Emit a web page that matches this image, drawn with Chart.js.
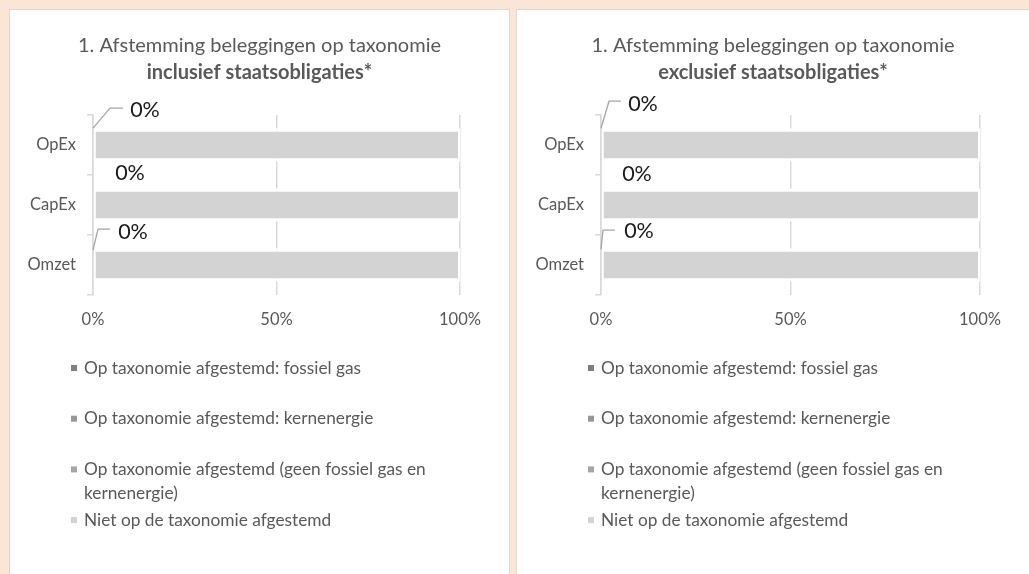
<!DOCTYPE html>
<html>
<head>
<meta charset="utf-8">
<script src="https://cdn.jsdelivr.net/npm/chart.js@4.4.1/dist/chart.umd.min.js"></script>
<style>
  body { margin: 0; background: #fbe5d6; width: 1029px; height: 574px; overflow: hidden; position: relative; }
  .paneel { position: absolute; top: 9px; background: #fff; border: 1px solid #d9d9d9; }
  #links { left: 9px; width: 499px; height: 580px; }
  #rechts { left: 516px; width: 520px; height: 580px; }
  canvas { display: block; }
</style>
</head>
<body>
<div class="paneel" id="links"><canvas id="grafiekIncl" width="499" height="564"></canvas></div>
<div class="paneel" id="rechts"><canvas id="grafiekExcl" width="512" height="564"></canvas></div>
<script>
// Categorieën (van boven naar beneden zoals in de grafiek)
const categorieen = ['OpEx', 'CapEx', 'Omzet'];

// Namen van de reeksen
const reeksNamen = [
    'Op taxonomie afgestemd: fossiel gas',
    'Op taxonomie afgestemd: kernenergie',
    'Op taxonomie afgestemd (geen fossiel gas en kernenergie)',
    'Niet op de taxonomie afgestemd'
];

// Inclusief staatsobligaties (%)
const inclFossielGas = [0, 0, 0];
const inclKernenergie = [0, 0, 0];
const inclAfgestemd = [0, 0, 0];
const inclNietAfgestemd = [100, 100, 100];

// Exclusief staatsobligaties (%)
const exclFossielGas = [0, 0, 0];
const exclKernenergie = [0, 0, 0];
const exclAfgestemd = [0, 0, 0];
const exclNietAfgestemd = [100, 100, 100];

// Tick-waarden x-as
const xTicks = [0, 50, 100];

const kleuren = ['#7f7f7f', '#979797', '#a6a6a6', '#d3d3d3'];
const tekstKleur = '#595959';
const lettertype = 'Lato, "Open Sans", sans-serif';

// Plugin: titel, datalabels met verbindingslijnen en legenda
const labelsEnLegenda = {
    id: 'labelsEnLegenda',
    afterDatasetsDraw(chart, args, opts) {
        const ctx = chart.ctx;
        const ds = chart.data.datasets[opts.labelReeks];
        const meta = chart.getDatasetMeta(opts.labelReeks);
        const x0 = chart.scales.x.getPixelForValue(0);
        ctx.save();
        meta.data.forEach((bar, i) => {
            const pos = opts.posities[i];
            const ankerY = bar.y - bar.height / 2;
            if (pos.lijn) {
                ctx.strokeStyle = '#a6a6a6';
                ctx.lineWidth = 1.3;
                ctx.beginPath();
                pos.lijn.forEach((p, k) => {
                    if (k === 0) ctx.moveTo(x0 + p[0], ankerY + p[1]);
                    else ctx.lineTo(x0 + p[0], ankerY + p[1]);
                });
                ctx.stroke();
            }
            ctx.fillStyle = '#1a1a1a';
            ctx.font = '21.5px ' + lettertype;
            ctx.textAlign = 'center';
            ctx.textBaseline = 'middle';
            ctx.fillText(ds.data[i] + '%', x0 + pos.dx, ankerY + pos.dy);
        });
        ctx.restore();
    },
    afterDraw(chart, args, opts) {
        const ctx = chart.ctx;
        ctx.save();
        // titel, gecentreerd over het hele paneel
        ctx.fillStyle = tekstKleur;
        ctx.textAlign = 'center';
        ctx.textBaseline = 'middle';
        ctx.font = '20px ' + lettertype;
        ctx.fillText(opts.titel, chart.width / 2, 36);
        ctx.font = 'bold 20px ' + lettertype;
        ctx.fillText(opts.ondertitel, chart.width / 2, 62.5);

        // legenda
        ctx.font = '17.3px ' + lettertype;
        ctx.textAlign = 'left';
        chart.data.datasets.forEach((ds, i) => {
            const y = opts.legendaTop + i * opts.legendaStap;
            ctx.fillStyle = ds.backgroundColor;
            ctx.fillRect(opts.legendaX - 13, y - 3, 6, 6);
            // tekst afbreken als hij te breed is
            const woorden = ds.label.split(' ');
            const regels = [];
            let regel = '';
            woorden.forEach(w => {
                const test = regel ? regel + ' ' + w : w;
                if (ctx.measureText(test).width > opts.maxBreedte && regel) {
                    regels.push(regel);
                    regel = w;
                } else {
                    regel = test;
                }
            });
            regels.push(regel);
            ctx.fillStyle = tekstKleur;
            regels.forEach((r, k) => ctx.fillText(r, opts.legendaX, y + k * 24));
        });
        ctx.restore();
    }
};

function maakGrafiek(id, ondertitel, reeksen, instellingen) {
    const ctx = document.getElementById(id).getContext('2d');
    instellingen.labels.titel = '1. Afstemming beleggingen op taxonomie';
    instellingen.labels.ondertitel = ondertitel;
    return new Chart(ctx, {
        type: 'bar',
        data: {
            labels: categorieen,
            datasets: reeksen.map((data, i) => ({
                label: reeksNamen[i],
                data: data,
                backgroundColor: kleuren[i],
                borderColor: '#ffffff',
                borderWidth: { top: 3.5, bottom: 3.5, left: 2, right: 2 },
                borderSkipped: false,
                barPercentage: 0.56,
                categoryPercentage: 1
            }))
        },
        options: {
            indexAxis: 'y',
            responsive: false,
            animation: false,
            events: [],
            layout: {
                padding: { left: 0, right: instellingen.rechts, top: 105, bottom: 239 }
            },
            plugins: {
                legend: { display: false },
                tooltip: { enabled: false },
                labelsEnLegenda: instellingen.labels
            },
            scales: {
                x: {
                    stacked: true,
                    min: 0,
                    max: 100,
                    afterBuildTicks: (as) => { as.ticks = xTicks.map(v => ({ value: v })); },
                    afterFit: (as) => { as.height = 40; },
                    grid: { color: '#d9d9d9', lineWidth: 1.5, drawTicks: false },
                    border: { display: false },
                    ticks: {
                        color: tekstKleur,
                        padding: 15,
                        font: { family: lettertype, size: 16.5 },
                        callback: (v) => v + '%'
                    }
                },
                y: {
                    stacked: true,
                    z: 1,
                    afterFit: (as) => { as.width = instellingen.links; },
                    grid: { drawOnChartArea: false, color: '#d9d9d9', lineWidth: 1.5, tickLength: 6 },
                    border: { display: true, color: '#d9d9d9', width: 1.5 },
                    ticks: {
                        color: tekstKleur,
                        padding: 11,
                        font: { family: lettertype, size: 16.5 }
                    }
                }
            }
        },
        plugins: [labelsEnLegenda]
    });
}

maakGrafiek('grafiekIncl', 'inclusief staatsobligaties*',
    [inclFossielGas, inclKernenergie, inclAfgestemd, inclNietAfgestemd],
    {
        links: 83,
        rechts: 49,
        labels: {
            labelReeks: 2,
            posities: [
                { dx: 52, dy: -18, lijn: [[0, 0], [17, -20], [30, -20]] },
                { dx: 37, dy: -15 },
                { dx: 40, dy: -16, lijn: [[0, 2], [5, -19], [17, -19]] }
            ],
            legendaX: 74,
            legendaTop: 358,
            legendaStap: 50.7,
            maxBreedte: 380
        }
    });

maakGrafiek('grafiekExcl', 'exclusief staatsobligaties*',
    [exclFossielGas, exclKernenergie, exclAfgestemd, exclNietAfgestemd],
    {
        links: 84,
        rechts: 49,
        labels: {
            labelReeks: 2,
            posities: [
                { dx: 42, dy: -24, lijn: [[0, 0], [8, -27], [20, -27]] },
                { dx: 36, dy: -14 },
                { dx: 38, dy: -17, lijn: [[0, 1], [2, -18], [14, -18]] }
            ],
            legendaX: 84,
            legendaTop: 358,
            legendaStap: 50.7,
            maxBreedte: 380
        }
    });
</script>
</body>
</html>
